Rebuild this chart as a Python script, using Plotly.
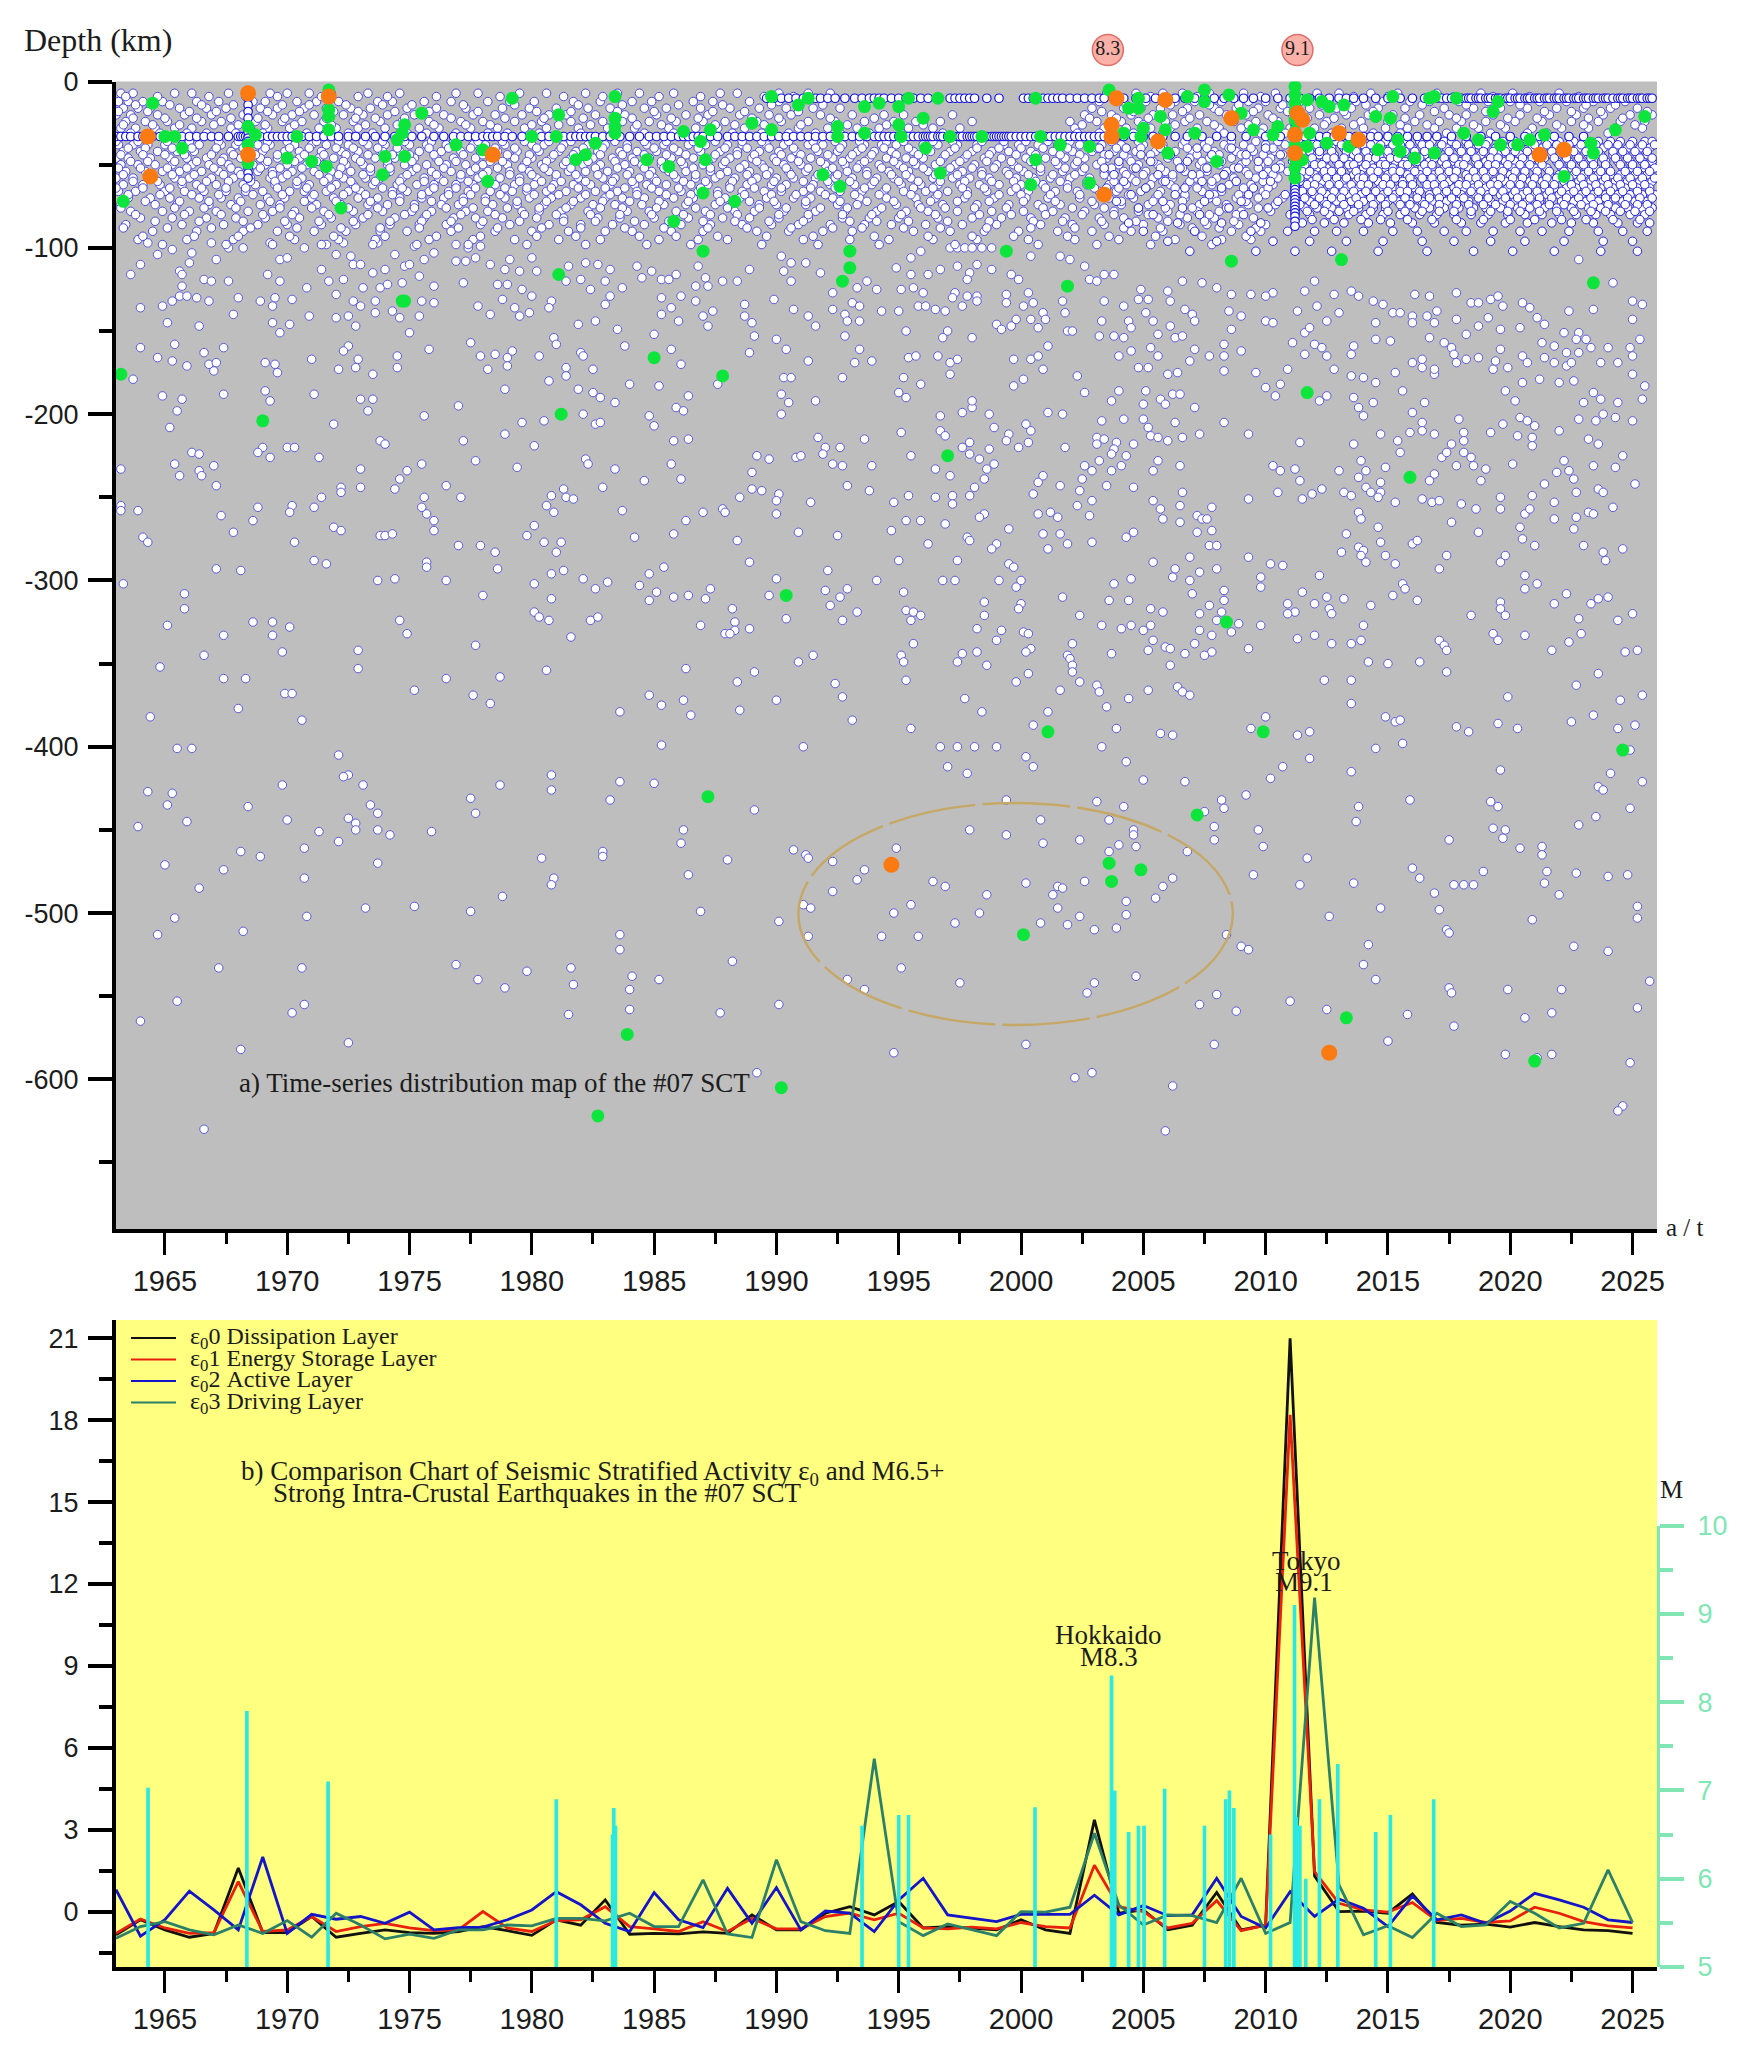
import plotly.graph_objects as go

W, H = 1739, 2054

# all event times are tenths of a year counted from 1963, depths are km below surface
# flat lists: t, depth, t, depth, ...
dots_shallow = [13,97,17,104,23,101,31,103,10,110,6,116,30,109,26,114,27,116,36,119,39,120,46,120,27,123,41,107,46,100,52,100,39,97,63,97,67,107,70,106,77,100,62,116,67,120,84,113,78,124,90,128,87,120,93,119,90,104,96,105,97,110,100,110,105,115,110,113,114,104,118,111,120,110,124,117,126,107,130,103,122,99,86,98,93,97,107,97,101,124,108,124,111,122,117,121,130,123,142,121,156,122,160,122,139,108,143,108,147,106,153,110,159,113,165,114,161,107,170,106,172,114,144,100,149,99,139,98,23,132,26,129,29,129,33,130,38,132,19,135,10,136,50,130,59,132,65,130,64,135,72,131,48,140,64,145,71,146,67,151,79,141,90,142,95,141,98,147,106,139,97,132,100,135,106,132,113,138,116,142,124,141,130,133,125,132,21,145,34,147,120,151,148,135,153,140,158,131,163,136,165,141,169,139,170,129,178,132,177,136,166,125,184,120,190,119,194,125,200,120,207,124,202,129,200,134,189,146,196,144,205,149,185,111,192,109,197,110,202,113,213,111,215,118,219,114,229,116,223,119,226,119,223,130,231,129,237,132,227,136,223,140,230,144,240,141,244,138,242,147,220,152,241,118,237,123,242,123,248,120,254,120,259,113,238,111,257,134,257,141,260,145,269,131,277,137,283,141,286,147,261,153,270,155,272,105,276,109,273,114,276,120,288,115,282,109,293,137,298,140,299,144,304,144,301,133,304,135,293,127,303,124,311,125,307,120,298,153,313,138,341,100,344,100,347,100,350,100,354,100,358,100]
dots_mid_left = [10,160,24,158,17,166,23,168,29,171,36,163,44,160,38,170,41,169,40,174,61,169,65,170,66,175,80,167,95,159,93,162,91,173,99,167,98,172,105,176,115,165,115,172,128,161,145,157,149,165,155,164,162,162,160,166,160,171,152,173,173,165,179,154,180,158,190,163,191,165,184,172,184,177,195,173,177,180,208,159,227,161,231,170,259,163,274,161,283,168,302,169,309,168,304,161,273,178,276,178,297,178,7,179,19,189,27,191,44,188,61,186,63,192,81,188,100,191,105,191,103,198,25,198,22,208,89,206,126,201,140,195,159,185,166,205,175,204,191,200,196,206,198,205,189,185,195,187,198,190,204,193,210,182,222,183,234,189,229,196,232,198,218,201,220,207,246,182,272,188,275,193,286,192,272,200,159,212,142,216,171,219,108,216,110,218,228,216,234,215,287,214,306,215,290,220,296,220,262,225,267,227,278,226,280,225,289,224,31,223,34,224,60,220,58,223,63,226,70,220,73,220,83,226,24,230,40,231,34,234,35,237,26,237,41,243,2,233,100,233,119,234,125,230,116,239,114,245,147,228,164,232,192,227,193,230,204,233,227,230,231,239,216,240,199,244,260,235,293,230,297,231,309,231,299,243,308,246,135,243,92,244,92,247,100,244,84,250,126,250,141,250,178,249,183,245,184,250,187,251,260,245,264,246,271,248,255,250,270,252,284,253]
dots_low_left = [2,255,2,258,9,258,58,256,72,255,71,259,81,256,43,261,56,264,125,256,127,260,130,264,130,270,176,255,179,259,207,258,240,259,248,257,249,259,270,260,233,264,171,267,89,268,92,270,48,271,108,273,110,273,113,272,279,271,228,272,295,273,212,274,168,273,11,274,13,277,73,277,140,279,149,279,155,283,175,277,182,277,180,283,254,276,127,289,127,292,81,288,86,290,41,293,51,294,156,293,259,289,224,292,218,296,178,296,183,294,291,294,270,299,3,302,107,300,114,299,135,300,171,302,191,299,196,305,201,301,214,303,243,305,221,307,228,310,234,309,241,311,218,312,267,309,290,306,299,305,296,310,311,300,292,315,28,308,28,317,150,309,178,311,252,317,303,319,171,319,173,322,177,324,194,324,197,322,274,323,297,324,253,325,21,327,56,325,64,325,71,328,116,324,119,332,44,333,64,333,239,327,253,330,259,329,249,332,251,332,186,334,147,339,99,342,68,343,36,345,18,352,99,353,176,354,233,353,279,349,285,345,44,359,53,359,135,359,157,358,261,355,254,361,294,362,122,366,69,368,72,368,146,369,153,374,218,369,223,375,232,372,270,372,297,370,50,377,14,382,76,384,206,379,235,381,255,378,301,384]
dots_upper_right = [325,106,329,102,319,112,325,116,332,116,337,113,344,111,352,110,349,115,358,113,366,116,369,119,348,119,321,125,326,124,330,127,343,127,342,130,348,129,352,129,352,132,346,135,328,135,331,135,335,137,339,138,320,138,364,128,373,127,364,133,375,133,371,135,379,139,380,143,374,143,368,143,366,147,360,146,362,149,377,148,323,150,340,150,338,154,350,154,374,105,386,105,390,107,396,111,398,119,401,120,404,116,408,116,387,132,388,139,389,150,391,150,404,132,412,135,403,144,414,144,415,148,402,153,408,153,412,154,418,131,422,131,421,139,419,125,430,126,436,120,437,137,440,140,431,132,441,144,424,144,431,147,426,152,433,154,436,153,444,121,450,124,456,128,464,128,473,127,470,129,455,138,460,141,456,149,470,144,473,145,483,138,491,135,500,139,495,144,486,126,490,120,498,128,505,126,508,129,514,132,518,134,522,139,525,139,530,141,536,141,540,138,548,143,539,145,530,145,515,145,531,128,537,129,548,127,554,133,557,133,562,131,565,129,567,135,575,133,578,136,561,142,557,147,566,149,574,148,584,146,581,142,594,138,604,137,620,143,620,132,624,134,612,121,598,107,486,151,488,148,481,157,490,158,493,160,506,159,486,164,495,165,505,164,515,155,521,156,537,154,552,152,543,157,546,160,547,164,548,169,552,167,557,166,566,161,564,168,563,173,569,172,575,165,577,169,583,157,588,159,584,166,588,169,593,171,593,163,598,163,595,169,592,151,598,151,597,155,601,155,603,160,610,160,619,160,623,155,620,165,607,169,614,169,620,176,625,183,324,166,327,165,322,178,329,182,320,187,323,190,336,165,341,169,344,167,341,176,367,167,374,167,377,165,381,159,379,173,393,177,371,179,367,183,410,165,415,162,423,160,426,165,441,161,439,168,447,165,453,165,453,158,460,162,418,172,422,172,430,176,434,175,453,174,466,175,479,173,498,173,505,177,510,178,515,181,523,175,530,169,534,167,534,172,539,176,539,173,396,187,410,186,407,192,421,186,427,191,432,188,435,188,429,194,420,194,441,196,470,184,476,182,474,189,495,189,492,192,506,190,508,196,514,193,510,201,526,186,535,193,530,199,568,186,572,192,575,181,582,179,590,181,596,180,604,187,607,191,600,193,614,193,624,191]
dots_mid_right = [337,201,346,199,350,196,350,192,357,200,381,199,387,200,403,204,412,203,420,203,422,208,433,205,453,205,549,203,534,205,567,206,574,202,577,204,580,207,598,203,605,204,608,200,613,202,620,204,321,211,337,210,339,213,359,208,372,206,374,210,365,212,364,216,373,217,369,220,349,217,346,220,357,221,388,220,401,214,404,215,409,217,416,218,401,218,408,221,423,213,426,214,430,216,436,214,443,212,463,212,484,217,506,218,517,212,524,216,529,211,534,210,539,212,551,211,551,216,546,218,562,211,573,213,579,214,590,210,579,219,602,215,606,218,325,225,349,224,353,227,359,230,356,233,355,239,335,233,341,237,407,224,413,225,402,228,399,234,396,231,411,231,407,234,426,228,424,234,435,231,473,231,476,234,482,233,484,240,500,234,509,228,511,234,508,238,519,232,525,223,542,226,544,223,551,223,554,226,555,231,560,233,548,231,571,230,558,240,539,236,537,240,592,228,604,231,616,225,613,232,589,235,594,234,596,239,584,242,621,242,379,237,377,241,386,243,395,239,394,246,405,243,416,244,375,248,351,244,349,249,342,249,335,250,324,249,342,254,318,253,399,252,393,255,424,252,436,247,463,251,475,247,485,251,489,248,493,245,502,247,505,249,511,244,513,247,517,247,516,250,517,241,523,253,534,251,538,253,541,252,550,254,556,257,566,250,566,257,579,249,588,253,597,247,606,245,608,247,612,256]
dots_low_right = [427,257,435,255,448,256,377,260,382,259,385,262,398,261,355,260,353,262,323,264,329,264,339,266,317,270,365,269,428,263,435,265,442,261,444,263,446,263,442,271,448,270,508,259,509,263,516,268,503,272,546,265,557,271,576,260,578,257,588,263,597,262,602,259,604,260,574,268,596,269,575,275,348,274,349,276,332,278,360,278,358,281,379,272,386,272,381,281,389,278,399,277,413,274,416,271,447,279,450,279,517,277,530,278,532,276,501,283,508,280,510,282,509,285,511,289,519,285,580,279,600,279,608,283,616,281,609,288,568,285,566,289,544,285,523,290,541,293,320,288,344,288,365,290,367,292,424,289,439,286,463,286,472,290,477,291,433,293,443,295,450,293,492,297,468,298,432,298,439,300,338,300,343,300,361,300,370,300,408,302,415,299,576,297,581,302,526,302,468,304,368,304,322,307,576,305,527,305,453,306,485,307,522,309,440,308,593,308,606,311,610,310,532,312,387,310,453,312,406,312,414,312,355,313,370,314,495,310,502,311,490,314,566,313,588,314,603,314,323,318,326,319,329,321,325,324,355,321,369,317,394,321,423,317,428,319,447,315,443,320,452,319,450,324,479,314,482,319,479,320,496,317,497,320,513,315,566,317,568,321,554,321,598,323,614,324,620,320,352,329,362,330,371,331,373,332,403,327,411,329,415,327,420,330,423,327,443,330,459,326,456,331,468,327,510,327,448,333,490,333,563,332,576,333,599,332,483,335,424,336,565,336,594,337,326,338,360,336,391,338,441,338,429,340,431,341,422,342,463,341,497,338,505,338,509,336,541,336,543,339,544,342,587,342,617,343,622,342,448,343,321,345,346,344,352,343,374,341,372,343,407,344,437,344,445,345,389,345,390,347,322,349,344,349,356,351,391,351,431,351,512,349,520,350,533,349,544,355,391,355,373,356,606,356,323,360,368,361,394,361,494,360,505,360,401,363,402,367,434,364,436,367,439,369,422,366,386,366,597,363,569,370,624,369,347,371,414,371,505,374,615,372,405,376,354,379,381,379,470,382,604,381,519,382,523,385,525,384,595,385,565,386,548,388,553,391,573,389,614,389,621,387,325,389,375,387,409,389,427,392,432,393,464,389,483,393,488,391]
dots_deep_left = [25,401,31,401,91,405,223,399,281,400,95,417,93,418,101,423,68,423,13,427,23,428,21,435,29,445,9,448,54,436,70,444,104,435,107,440,95,443,98,446,98,450,107,450,112,453,83,451,91,457,129,451,145,431,147,440,157,423,178,417,178,426,206,421,220,422,202,432,261,438,232,450,231,458,77,461,51,463,59,466,20,471,44,474,34,485,77,479,107,470,174,467,199,463,199,466,179,479,178,483,158,490,234,477,250,468,277,462,282,465,283,467,293,469,306,474,303,480,293,487,281,495,284,497,102,497,122,496,145,499,239,499,78,502,24,503,271,505,17,513,52,511,206,513,206,522,283,514,313,514,252,529,42,533,76,533,139,531,148,540,168,535,186,533,159,545,187,543,211,538,222,540,210,546,299,540,306,546,25,553,77,555,72,560,210,558,185,561,247,560,271,555,10,565,95,578,51,582,262,596,36,630]
dots_deep_right = [337,400,344,400,351,400,360,400,403,400,372,406,340,412,348,416,375,412,413,409,420,420,437,421,364,432,401,433,412,436,378,444,406,444,349,450,364,453,416,450,416,453,379,458,394,456,417,460,410,459,406,463,438,463,319,461,334,481,339,484,372,482,385,484,387,485,396,481,356,489,383,489,432,479,428,484,425,491,413,493,325,495,318,500,353,500,385,497,413,501,394,502,343,506,378,506,389,507,400,510,409,509,328,514,454,513,460,520,463,522,321,533,345,542,417,538,400,542,397,548,318,584,372,579,392,599,399,596,432,604,429,631,449,579,443,555,450,549,458,559,480,553,495,558,520,577,528,561,547,568,576,563,587,560,545,545,546,548,569,546,591,546,627,541,622,557,515,540,510,531,512,519,568,585,587,585,619,590,616,616,614,619,581,587,445,439,449,448,449,456,452,432,453,437,462,429,467,450,469,460,465,477,487,467,484,483,506,482,496,502,517,497,541,498,539,488,530,473,533,479,547,483,551,483,555,483,559,475,545,456,507,445,508,436,529,432,477,412,472,419,488,407,505,415,515,401,526,398,566,414,562,433,565,436,563,449,568,450,567,455,574,461,583,460,583,465,585,475,584,482,590,489,597,476,610,478,618,477,579,504,544,510,545,512,596,520,610,523,622,496,622,503,598,447,605,442,619,437,606,424,608,426,611,416,624,421,619,402]

# the crowded layer above 100 km, one list of times per depth
band_depths = [7, 12, 16, 20, 24, 28, 38, 42, 46, 50, 54, 58, 62, 66, 70, 74, 78, 82, 86, 90, 95]
band_times = [
    [2,7,24,31,46,63,70,79,88,103,116,139,148,165,176,192,205,214,228,247,254,271,283,292,405,417,428,436,447,461,474,491,500,513,524,540,558,571,590],
    [1,5,11,19,33,42,56,61,74,82,91,107,113,126,137,152,161,171,187,198,211,219,236,244,259,271,279,402,409,421,433,441,452,463,470,484,496,507,518,529,537,549,561,570,582,593,604,617],
    [3,9,14,26,37,45,59,66,77,86,96,104,119,131,143,158,169,180,193,202,216,225,239,251,263,274,285,296,399,412,419,427,438,449,458,467,476,488,499,505,516,527,543,555,566,577,589,600,611,622],
    [0,6,17,28,39,52,64,72,81,93,101,111,122,134,146,155,166,177,184,196,208,221,233,242,255,267,276,288,301,314,322,342,396,407,415,424,432,443,454,462,471,481,492,503,512,522,533,545,552,563,574,586,597,608,619,628],
    [4,12,21,35,43,57,68,76,85,97,108,117,128,141,150,163,174,186,199,207,218,229,240,249,262,272,283,294,306,318,327,337,350,390,401,411,418,429,437,446,457,466,475,485,495,509,520,531,541,550,560,572,583,595,606,615,625],
    [2,8,16,24,31,47,55,62,71,83,90,99,110,124,132,145,156,167,176,189,201,212,226,237,246,257,268,279,291,303,312,324,334,345,392,404,413,423,431,442,451,460,469,480,490,501,510,519,528,539,548,557,568,579,591,602,613,624],
    [1,7,13,20,27,34,43,49,58,63,73,80,86,95,103,110,120,127,135,146,151,159,170,175,183,193,200,209,217,224,234,241,250,256,266,273,283,289,297,306,313,319,330,336,344,352,363,369,377,385,394,403,411,420,428,436,445,453,461,470,478],
    [3,10,17,25,32,40,47,53,60,69,75,84,92,99,109,116,124,133,141,149,156,164,173,181,188,197,206,213,221,230,239,247,254,263,271,278,287,295,303,310,317,326,333,341,350,358,365,374,383,391,399,408,417,425,433,440,449,458,465,474],
    [0,5,14,22,29,37,44,51,59,66,75,83,89,98,106,114,122,131,138,147,154,163,170,178,186,195,203,211,218,227,236,244,251,260,269,276,284,293,300,308,315,323,330,338,347,355,362,372,380,388,396,405,414,422,430,439,447,456,463,472],
    [2,9,16,23,31,38,46,56,61,70,78,85,94,101,111,118,127,135,143,150,160,167,174,183,191,198,208,215,223,232,240,248,257,264,273,280,290,298,304,312,320,327,335,343,351,360,367,376,385,392,401,410,418,426,435,443,451,460,468,476],
    [4,12,19,26,35,42,50,58,64,72,81,88,96,104,112,121,129,137,145,152,161,169,177,185,192,201,210,219,226,233,243,250,259,267,275,282,291,299,307,316,324,332,339,346,354,364,371,378,387,395,404,412,421,429,437,446,454,462,471,479],
    [0,7,15,24,30,39,48,55,63,68,76,87,93,102,108,117,126,132,141,148,157,165,172,180,189,199,204,214,220,229,237,245,253,262,270,277,286,294,301,311,318,325,334,342,349,357,368,375,382,390,398,407,415,424,432,441,450,457,466,475],
    [3,11,18,27,33,41,52,57,65,74,79,90,97,105,115,123,130,139,146,155,163,171,179,187,194,202,212,217,225,235,242,251,258,268,274,285,292,302,309,321,329,336,345,353,361,370,379,389,397,406,413,423,431,438,448,455,464,473],
    [1,8,20,28,36,45,53,60,71,77,86,95,100,113,119,128,136,144,153,162,168,176,184,196,205,213,222,231,238,246,256,265,272,281,288,296,305,314,322,331,340,348,356,366,373,384,393,402,409,419,427,434,444,452,461,469],
    [5,14,22,34,43,50,62,69,80,89,99,107,116,125,134,142,151,159,169,178,190,200,207,216,228,236,249,255,266,277,284,293,304,315,327,335,347,359,372,381,394,406,416,425,437,447,458,467,477],
    [2,16,25,38,47,59,67,82,92,103,111,122,133,140,154,164,175,186,195,204,215,224,233,245,252,263,270,282,295,303,319,328,338,352,365,377,386,400,411,422,431,443,454,463,474],
    [6,19,30,41,54,64,73,85,97,109,121,129,143,152,166,173,182,193,209,218,229,241,253,261,273,286,298,311,323,332,344,358,371,383,396,408,418,430,442,451,460,472],
    [10,23,37,49,61,75,88,101,114,126,138,147,158,172,183,197,206,220,234,248,259,271,283,297,308,320,336,350,362,374,388,402,412,426,438,449,465],
    [4,27,44,58,70,84,98,112,124,135,149,161,177,190,203,216,231,243,256,268,279,292,306,317,331,346,360,378,391,404,420,435,446,459,470],
    [15,33,52,66,81,94,108,119,137,155,170,185,200,211,227,240,262,275,289,301,326,341,355,369,385,399,415,428,441,456,468],
    [9,29,48,73,91,106,128,146,163,181,198,222,238,250,281,300,316,334,352,373,392,410,433,452,464],
]
band2_depths = [9, 14, 18, 22, 26, 31, 36, 40, 44, 48, 52, 56, 60, 64, 68, 72, 76, 80, 84, 88, 93, 98]
band2_times = [
    [4,17,38,53,66,84,99,111,131,157,183,199,222,239,265,277,410,423,442,455,468,506,520,547,563,578,598],
    [8,22,35,48,68,79,94,109,121,142,163,189,207,230,248,268,289,413,431,447,459,477,493,511,534,552,574,601,613],
    [1,13,30,41,62,75,89,99,114,128,148,172,186,205,220,244,257,279,403,416,436,451,465,479,502,514,539,560,584,595,607,626],
    [7,20,33,47,58,69,86,98,106,118,137,159,175,191,211,227,238,260,271,292,310,398,409,422,439,456,473,487,498,515,527,548,569,581,602,616],
    [3,15,26,40,50,61,73,88,102,115,130,143,153,170,181,194,213,223,245,253,265,280,299,315,330,395,406,420,433,449,463,482,494,506,525,536,555,566,589,600,621],
    [6,18,29,37,49,60,78,87,95,105,119,127,139,152,160,173,190,203,216,228,243,252,264,275,286,296,308,321,338,393,402,416,428,439,453,468,478,497,514,525,544,562,577,585,610],
    [0,9,21,30,42,50,62,70,82,91,101,109,118,129,138,148,158,167,177,186,195,204,216,225,236,245,256,264,275,285,294,304,315,322,334,342,354,363,372,381,390,398,407,418,426,437,447,456,466,475],
    [5,12,23,31,41,52,61,71,79,90,97,107,115,128,136,145,155,163,172,182,191,199,209,220,228,238,249,258,267,277,286,296,305,314,324,331,343,352,361,370,379,389,401,409,419,428,438,446,455,464,473],
    [2,11,20,28,39,48,57,66,77,85,94,103,113,120,130,142,150,160,169,179,187,198,207,216,225,233,245,254,261,272,280,291,301,309,319,328,339,348,357,368,376,386,394,404,412,423,431,442,451,460,469,477],
    [6,13,24,33,43,54,62,73,82,93,100,111,121,132,139,153,158,168,176,184,193,204,212,223,231,242,249,262,270,279,288,297,306,318,326,337,345,356,366,374,384,393,403,415,424,434,444,452,462,471],
    [1,10,21,29,40,47,59,67,76,86,92,104,112,123,134,147,156,166,175,186,196,205,216,224,236,243,255,265,274,283,293,303,313,322,330,341,350,359,369,378,388,396,407,416,427,436,445,457,467,476],
    [3,14,23,32,44,51,64,70,83,91,101,110,119,131,141,150,161,170,180,188,197,209,218,228,237,247,258,266,276,287,295,307,317,323,335,344,354,365,373,383,392,404,413,420,432,443,453,463,473],
    [7,17,27,37,46,55,65,74,85,96,106,116,126,134,144,152,165,174,182,192,203,211,221,232,241,252,260,269,281,291,300,310,320,328,337,347,358,367,376,386,397,408,417,428,439,448,458,469],
    [0,11,22,35,45,53,66,78,88,98,109,117,130,139,147,159,168,178,189,200,208,219,230,239,251,261,272,284,294,306,315,326,334,346,355,368,380,389,400,410,421,433,442,452,461,471],
    [5,18,31,42,56,68,81,93,102,113,125,136,145,157,171,181,192,202,213,225,235,246,257,268,278,290,302,312,325,336,348,361,370,382,394,405,414,426,437,449,459,470],
    [12,26,38,51,63,77,90,104,116,129,142,151,164,176,187,199,210,222,234,247,259,269,282,296,307,318,333,344,357,371,384,399,411,424,436,450,462],
    [2,24,36,49,67,80,95,107,122,135,146,160,173,184,198,207,221,237,250,263,274,288,299,313,329,339,351,364,379,391,404,418,429,440,454,467],
    [8,28,43,60,72,87,103,118,127,141,155,167,180,194,206,219,232,243,254,271,283,297,309,321,335,353,366,380,395,408,422,435,447,458],
    [16,34,52,69,83,97,112,125,137,150,165,183,196,212,226,240,253,267,281,300,311,324,340,357,375,387,403,417,430,445,457],
    [3,21,39,55,74,92,108,124,140,156,174,190,208,224,242,258,276,293,305,322,337,356,374,392,412,427,440,451,466],
    [11,32,50,71,89,110,131,149,172,188,214,229,246,266,285,310,332,350,367,389,406,425,444,462],
    [19,45,64,84,105,123,144,168,192,217,235,264,287,312,343,377,401,423,448],
]

# after the 2011 event the 35-90 km layer closes into a mesh
mesh_depths = [36, 40, 44, 48, 52, 56, 60, 64, 68, 72, 76, 80, 85, 90, 96, 102]
mesh_times = [
    [484,490,496,499,505,509,515,519,524,528,533,538,543,546,552,556,561,567,572,576,581,586,590,596,600,606,611,615,620,625,628],
    [402,413,427,442,456,470,483,487,493,497,502,507,511,516,521,526,530,536,541,544,549,554,559,564,569,573,579,583,588,593,598,603,608,613,618,623,627],
    [406,419,431,448,462,476,485,489,492,498,503,506,512,517,520,525,531,535,539,545,551,555,558,565,570,574,578,584,587,592,597,602,607,612,617,622,626],
    [410,423,438,451,467,481,484,488,494,499,504,508,513,518,523,527,532,537,542,547,550,556,560,563,568,572,577,582,589,594,599,604,609,614,619,624,628],
    [404,417,435,446,459,474,486,491,495,500,505,510,514,519,522,529,534,538,543,548,553,557,562,566,571,575,580,585,591,595,601,605,610,616,620,625,629],
    [408,426,440,453,469,483,487,490,496,501,506,509,515,520,524,528,533,539,544,546,552,558,561,567,570,576,581,586,590,596,600,606,611,615,621,626],
    [412,429,444,458,472,484,489,493,498,502,507,512,516,521,526,530,535,540,545,549,554,559,564,568,573,578,583,587,592,598,603,608,613,618,623,628],
    [405,421,437,452,465,482,486,492,497,503,508,511,517,522,525,531,536,541,547,551,555,560,565,569,574,579,584,588,593,597,602,607,612,617,622,627],
    [415,433,447,463,478,485,490,495,500,504,509,513,518,523,527,532,537,542,546,550,556,561,566,571,575,580,585,590,594,599,604,609,614,619,624,629],
    [409,428,445,460,475,483,488,494,499,505,510,515,520,524,529,534,538,544,548,553,558,562,567,572,577,582,586,591,596,601,606,610,616,621,626],
    [418,436,455,471,486,491,497,503,508,514,519,526,531,537,543,549,555,560,566,573,578,584,589,595,602,607,613,618,624,628],
    [424,443,461,480,488,496,504,511,518,525,533,540,547,554,561,569,576,583,590,597,605,611,619,625],
    [414,434,452,468,485,494,502,512,521,530,539,550,558,568,577,587,595,604,614,622,627],
    [420,441,464,479,490,499,510,522,532,543,552,563,574,583,594,606,616,626],
    [430,450,473,488,503,518,534,547,562,576,592,608,620],
    [439,466,482,497,516,536,555,571,588,607,622],
]
mesh2_depths = [38, 42, 46, 50, 54, 58, 62, 66, 70, 74, 78, 83]
mesh2_times = [
    [486,491,494,501,504,510,513,517,522,525,529,534,537,542,548,553,557,560,566,571,574,580,585,589,594,599,605,610,614,619,624,629],
    [485,488,492,497,503,507,511,516,520,527,531,535,540,545,550,554,559,563,568,572,577,582,587,591,596,601,606,612,616,621,626],
    [484,489,495,498,502,508,512,515,521,524,530,533,539,543,547,552,556,562,565,570,575,579,584,588,593,598,603,608,613,618,623,628],
    [486,490,493,500,504,506,511,517,519,526,528,535,538,544,549,551,557,561,564,569,574,578,583,590,595,600,604,609,615,620,625],
    [485,488,494,497,501,507,513,516,522,525,531,536,541,545,548,555,559,563,567,572,576,581,586,592,597,602,607,611,617,622,627],
    [484,491,495,499,503,508,510,514,519,523,529,534,538,542,547,553,556,560,566,571,575,580,585,589,594,599,604,609,614,619,624,629],
    [487,490,496,500,505,509,512,518,521,526,530,536,539,543,549,552,557,562,565,570,574,579,584,588,595,600,605,610,615,620,625],
    [485,489,493,498,502,506,511,515,520,525,528,533,540,544,548,554,558,563,567,572,577,581,586,591,596,601,606,611,616,622,627],
    [486,492,497,501,507,513,517,522,527,532,537,541,546,551,557,561,568,573,578,582,587,593,598,603,609,613,618,623,628],
    [484,490,495,502,508,514,519,525,529,535,541,548,553,559,564,570,575,581,586,592,599,604,610,617,622,626],
    [487,494,500,506,513,520,527,534,541,547,554,562,569,574,582,589,596,603,609,615,621,627],
    [489,498,509,517,528,538,548,559,570,580,591,601,612,623],
]

# catalogue depths fixed at 33 km and 10 km
fixed_33_times = [0,2,4,6,9,11,13,15,18,21,24,27,30,33,36,39,42,46,50,51,52,53,54,55,57,59,62,64,66,68,70,72,74,76,79,82,85,88,91,95,98,102,106,110,114,118,121,125,130,134,138,141,144,147,150,152,154,156,159,162,166,170,174,177,180,183,186,188,190,192,194,196,199,202,206,210,214,218,221,224,227,230,232,234,236,238,240,243,246,250,253,256,259,262,265,268,271,274,277,280,283,286,289,292,295,298,301,304,307,310,312,314,316,318,320,322,324,326,328,330,331,332,333,334,336,337,338,340,341,342,344,345,346,348,349,350,351,352,354,355,356,358,359,360,361,362,363,364,365,366,368,370,372,374,376,378,380,382,384,386,388,390,392,394,396,398,400,402,404,406,409,412,416,420,424,428,433,438,444,450,456,462,470,476,486,489,492,495,498,501,504,507,510,513,516,520,524,528,532,536,540,546,552,558,564,570,576,582,588,594,600]
fixed_10_times = [266,269,272,275,278,281,284,286,288,291,294,298,302,305,308,310,312,314,317,320,323,326,329,332,341,343,345,347,349,351,356,361,371,373,375,377,379,381,383,385,387,390,393,396,399,402,404,408,412,417,421,425,429,433,437,441,445,449,453,457,461,465,470,475,480,484,488,492,496,500,503,506,510,515,520,525,530,535,538,540,542,544,546,548,550,552,553,554,556,557,558,560,561,562,564,565,566,568,569,570,572,573,574,576,577,578,580,581,582,584,585,586,588,589,590,592,593,594,596,597,598,600,601,602,604,605,606,608,609,610,612,614,615,616,618,619,620,622,623,624,626,627,628]
stack_1968_depths = [10,14,18,22,26,28,30,34,36,38,41,44,48,52,55,58]
stack_2011_depths = [5,9,13,17,21,25,29,33,37,41,43,45,47,49,51,53,55,57,59,61,63,65,67,69,71,73,75,77,79,81,84,87]

green_events = [15,13,20,33,24,33,27,40,3,72,57,32,54,27,54,38,54,49,74,33,70,46,80,48,86,51,87,5,87,17,87,29,87,21,92,76,125,19,118,26,117,31,115,35,110,45,118,45,109,56,139,38,150,41,152,60,162,10,181,20,170,33,180,33,196,37,192,44,188,47,204,9,204,22,204,27,204,31,217,47,226,51,232,30,239,36,243,29,241,47,240,67,240,102,253,72,228,84,181,116,118,132,260,25,268,9,268,29,279,14,283,10,289,56,296,63,295,27,295,33,306,15,306,31,300,102,300,112,297,120,312,13,320,15,324,10,336,10,320,26,330,22,321,33,331,40,337,55,341,33,354,33,376,10,378,33,376,47,374,62,386,38,398,39,398,61,364,102,389,123,406,5,414,16,418,10,418,16,412,31,420,28,419,33,430,43,429,29,427,21,438,9,445,5,445,12,455,8,460,19,441,31,450,48,465,29,475,27,473,32,482,3,482,8,482,13,482,18,482,23,482,30,482,38,482,46,482,52,482,58,487,11,488,31,487,39,485,47,493,12,496,15,502,14,495,37,504,39,456,108,501,107,522,9,515,21,521,22,524,35,525,42,516,41,531,46,539,43,537,10,539,9,548,10,565,12,563,18,551,31,557,35,566,38,573,38,578,35,584,32,603,37,604,43,592,57,613,29,625,21,604,121,2,176,60,204,117,132,220,166,248,177,182,200,274,309,340,225,487,187,529,238,454,325,381,391,469,391,242,430,209,573,272,605,197,622,442,441,616,402,406,470,419,474,407,481,371,513,503,563,580,589]
orange_events = [13,33,14,57,54,7,54,44,87,9,154,44,409,10,429,11,407,26,407,33,426,36,404,68,456,22,483,19,485,23,482,32,482,43,500,31,508,35,582,44,592,41,496,584,317,471]

major_year = [2003.55, 2011.3]
major_label = ["8.3", "9.1"]

# panel b, one value per year
years = list(range(1963, 2026))
eps0 = [-.85,-.3,-.67,-.94,-.8,1.6,-.77,-.77,-.18,-.94,-.8,-.67,-.77,-.8,-.73,-.55,-.7,-.87,-.3,-.5,.43,-.83,-.8,-.82,-.74,-.8,-.12,-.67,-.67,-.06,.18,-.12,.37,-.6,-.55,-.6,-.67,-.3,-.67,-.8,3.36,-.06,.06,-.67,-.5,.7,-.67,-.5,21.0,1.3,0,.02,-.06,.65,-.4,-.5,-.46,-.57,-.4,-.55,-.67,-.7,-.8]
eps1 = [-.8,-.27,-.6,-.8,-.77,1.1,-.73,-.67,-.18,-.73,-.55,-.43,-.6,-.7,-.67,0,-.6,-.73,-.33,-.3,.18,-.55,-.63,-.73,-.37,-.73,-.25,-.63,-.63,-.18,-.06,-.3,-.06,-.6,-.63,-.57,-.63,-.4,-.55,-.6,1.7,.18,0,-.6,-.43,.4,-.7,-.5,18.2,1.46,.3,.06,-.02,.33,-.33,-.25,-.4,-.34,.16,-.06,-.37,-.52,-.6]
eps2 = [.8,-.9,-.3,.75,.06,-.67,2.0,-.8,-.1,-.28,-.18,-.43,-.02,-.67,-.59,-.57,-.3,.06,.73,.25,-.43,-.73,.7,-.3,-.59,.85,-.43,.88,-.67,.02,-.06,-.73,.43,1.22,-.12,-.25,-.37,-.1,-.1,-.1,.6,-.12,.22,-.15,-.12,1.22,-.18,-.6,.73,-.18,.46,.12,-.55,.57,-.3,-.12,-.43,.02,.67,.43,.16,-.3,-.4]
eps3 = [-.98,-.55,-.37,-.67,-.85,-.49,-.8,-.33,-.94,-.06,-.49,-1,-.83,-.98,-.67,-.67,-.49,-.52,-.25,-.25,-.34,-.06,-.55,-.55,1.16,-.82,-.95,1.9,-.37,-.7,-.8,5.6,-.37,-.88,-.45,-.67,-.88,0,-.02,.16,2.87,.24,-.49,-.12,-.15,-.4,1.22,-.8,-.4,11.5,.98,-.85,-.52,-.95,-.06,-.55,-.49,.37,-.06,-.6,-.43,1.53,-.4]

quake_year = [1964.31,1968.35,1971.67,1981.0,1983.3,1983.35,1983.42,1993.5,1995.0,1995.4,2000.57,2003.7,2003.83,2004.4,2004.8,2005.03,2005.87,2007.5,2008.37,2008.52,2008.7,2010.2,2011.18,2011.25,2011.4,2011.64,2012.2,2012.95,2014.5,2015.1,2016.87]
quake_mag = [7.03,7.9,7.1,6.9,6.5,6.8,6.6,6.6,6.72,6.72,6.81,8.3,7.0,6.53,6.6,6.6,7.02,6.6,6.9,7.0,6.8,6.5,9.1,6.7,6.6,6.0,6.9,7.3,6.53,6.72,6.9]

year_ticks = list(range(1965, 2030, 5))
year_minor = [1967.5 + 5 * i for i in range(12)]
depth_ticks = [0, -100, -200, -300, -400, -500, -600]
depth_minor = [-50, -150, -250, -350, -450, -550, -650]
eps_ticks = [0, 3, 6, 9, 12, 15, 18, 21]
eps_minor = [-1.5, 1.5, 4.5, 7.5, 10.5, 13.5, 16.5, 19.5]
mag_ticks = [5, 6, 7, 8, 9, 10]
mag_minor = [5.5, 6.5, 7.5, 8.5, 9.5]

legend_labels = [
    "ε<sub>0</sub>0 Dissipation Layer",
    "ε<sub>0</sub>1 Energy Storage Layer",
    "ε<sub>0</sub>2 Active Layer",
    "ε<sub>0</sub>3 Driving Layer",
]
legend_colors = ["#111111", "#E8200C", "#1414C8", "#2C8068"]

SANS = "Liberation Sans"
SERIF = "Liberation Serif"
TEXT = "#1c1c1c"


def year_of(t):
    return 1963 + t / 10


def px(x):
    return x / W


def py(y):
    return 1 - y / H


def rows_to_points(rows, depths):
    ts, ds = [], []
    for times, depth in zip(rows, depths):
        ts += times
        ds += [depth] * len(times)
    return ts, ds


def add_dots(ts, ds, size, color, line_color=None, line_width=0):
    fig.add_trace(go.Scatter(
        x=[year_of(t) for t in ts],
        y=[-d for d in ds],
        mode="markers",
        marker={"size": size, "color": color, "line": {"color": line_color or color, "width": line_width}},
        showlegend=False,
    ))


fig = go.Figure()

sparse_t, sparse_d = [], []
for flat in [dots_shallow, dots_mid_left, dots_low_left, dots_upper_right, dots_mid_right,
             dots_low_right, dots_deep_left, dots_deep_right]:
    sparse_t += flat[::2]
    sparse_d += flat[1::2]
band_t, band_d = rows_to_points(band_times + band2_times, band_depths + band2_depths)
mesh_t, mesh_d = rows_to_points(mesh_times + mesh2_times, mesh_depths + mesh2_depths)

add_dots(sparse_t, sparse_d, 8.5, "white", "#5A5AD8", 1)
add_dots(band_t, band_d, 8.5, "white", "#4A4AD8", 1)
add_dots(mesh_t, mesh_d, 8.5, "white", "#2424D8", 1)
add_dots(fixed_33_times + [54] * len(stack_1968_depths) + [482] * len(stack_2011_depths),
         [33] * len(fixed_33_times) + stack_1968_depths + stack_2011_depths,
         8.5, "white", "#1414DC", 1.2)
add_dots(fixed_10_times, [10] * len(fixed_10_times), 8.5, "white", "#1414DC", 1.2)
add_dots(green_events[::2], green_events[1::2], 13, "#0CE63C")
add_dots(orange_events[::2], orange_events[1::2], 16, "#FB7A12")

fig.add_trace(go.Scatter(
    x=major_year,
    y=[0, 0],
    mode="markers+text",
    text=major_label,
    textposition="middle center",
    textfont={"family": SERIF, "size": 20, "color": TEXT},
    marker={"size": 31, "color": "#FBB0A8", "line": {"color": "#DE6E68", "width": 1.5}},
    xaxis="x4",
    yaxis="y4",
    showlegend=False,
))

for values, name, color in zip([eps0, eps1, eps2, eps3], legend_labels, legend_colors):
    fig.add_trace(go.Scatter(
        x=years,
        y=values,
        mode="lines",
        name=name,
        line={"color": color, "width": 2.8},
        xaxis="x2",
        yaxis="y2",
        showlegend=False,
    ))
fig.add_trace(go.Bar(
    x=quake_year,
    y=quake_mag,
    width=0.15,
    marker={"color": "#2BE8E2", "line": {"width": 0}},
    xaxis="x3",
    yaxis="y3",
    showlegend=False,
))

plot_left, plot_right = px(116), px(1657)
year_axis = dict(
    range=[1963, 2026],
    tickvals=year_ticks,
    ticks="outside",
    ticklen=22,
    tickwidth=3,
    tickcolor="black",
    linecolor="black",
    linewidth=4,
    showline=True,
    showgrid=False,
    zeroline=False,
    automargin=False,
    ticklabelstandoff=1,
    tickfont={"family": SANS, "size": 29, "color": TEXT},
    minor={"tickvals": year_minor, "ticks": "outside", "ticklen": 11, "tickwidth": 3, "tickcolor": "black"},
    domain=[plot_left, plot_right],
)
value_axis = dict(
    ticks="outside",
    ticklen=24,
    tickwidth=4,
    tickcolor="black",
    linecolor="black",
    linewidth=4,
    showline=True,
    showgrid=False,
    zeroline=False,
    automargin=False,
    ticklabelstandoff=4,
    tickfont={"family": SANS, "size": 27, "color": TEXT},
)

fig.update_layout(
    width=W,
    height=H,
    margin={"l": 0, "r": 0, "t": 0, "b": 0},
    paper_bgcolor="white",
    plot_bgcolor="rgba(0,0,0,0)",
    barmode="overlay",
    showlegend=False,
    xaxis=dict(year_axis, anchor="y"),
    yaxis=dict(
        value_axis,
        range=[-690, 0],
        domain=[py(1229), py(81.6)],
        anchor="x",
        tickvals=depth_ticks,
        ticktext=[str(v) for v in depth_ticks],
        minor={"tickvals": depth_minor, "ticks": "outside", "ticklen": 13, "tickwidth": 4, "tickcolor": "black"},
    ),
    xaxis2=dict(year_axis, anchor="y2"),
    yaxis2=dict(
        value_axis,
        range=[-2.03, 21.67],
        domain=[py(1967), py(1320)],
        anchor="x2",
        tickvals=eps_ticks,
        minor={"tickvals": eps_minor, "ticks": "outside", "ticklen": 13, "tickwidth": 4, "tickcolor": "black"},
    ),
    xaxis3=dict(range=[1963, 2026], domain=[plot_left, plot_right], anchor="y3", visible=False, automargin=False),
    yaxis3=dict(
        range=[5, 10],
        domain=[py(1967), py(1525.5)],
        anchor="x3",
        side="right",
        tickvals=mag_ticks,
        ticks="outside",
        ticklen=24,
        tickwidth=4,
        tickcolor="#7FE6B4",
        linecolor="#7FE6B4",
        linewidth=3,
        showline=True,
        showgrid=False,
        zeroline=False,
        automargin=False,
        ticklabelstandoff=8,
        tickfont={"family": SANS, "size": 27, "color": "#7FE6B4"},
        minor={"tickvals": mag_minor, "ticks": "outside", "ticklen": 13, "tickwidth": 4, "tickcolor": "#7FE6B4"},
    ),
    # strip above panel a that carries the two great-earthquake badges
    xaxis4=dict(range=[1963, 2026], domain=[plot_left, plot_right], anchor="y4", visible=False, automargin=False),
    yaxis4=dict(range=[-1, 1], domain=[py(75), py(25)], anchor="x4", visible=False, automargin=False),
)

fig.add_shape(type="rect", xref="x domain", yref="y domain", x0=0, x1=1, y0=0, y1=1,
              fillcolor="#BEBEBE", line={"width": 0}, layer="below")
fig.add_shape(type="rect", xref="x2 domain", yref="y2 domain", x0=0, x1=1, y0=0, y1=1,
              fillcolor="#FFFF80", line={"width": 0}, layer="below")
fig.add_shape(type="circle", xref="x", yref="y", x0=1990.9, x1=2008.66, y0=-433.8, y1=-567.3,
              line={"color": "#C6A866", "width": 2.4, "dash": "88px,7px"})


def label(x, y, text, size=27, anchor="left", family=SERIF, color=TEXT):
    fig.add_annotation(x=px(x), y=py(y), xref="paper", yref="paper", text=text, showarrow=False,
                       xanchor=anchor, yanchor="middle", font={"family": family, "size": size, "color": color})


label(22, 40, "Depth (km)", size=32)
label(1664, 1227, "a / t", size=25)
label(237, 1083, "a) Time-series distribution map of the #07 SCT")
label(239, 1473, "b) Comparison Chart of Seismic Stratified Activity ε<sub>0</sub> and M6.5+")
label(271, 1493, "Strong Intra-Crustal Earthquakes in the #07 SCT")
label(1658, 1489, "M", size=26)
label(1108, 1635, "Hokkaido", anchor="center")
label(1109, 1657, "M8.3", anchor="center")
label(1306, 1561, "Tokyo", anchor="center")
label(1304, 1582, "M9.1", anchor="center")

for i, (name, color) in enumerate(zip(legend_labels, legend_colors)):
    row_y = 1338 + 21.5 * i
    fig.add_shape(type="line", xref="paper", yref="paper", x0=px(131), x1=px(176), y0=py(row_y), y1=py(row_y),
                  line={"color": color, "width": 2})
    label(188, row_y, name, size=24)

# default page body margin would shift the whole figure by 8px
fig.write_html("out.html", config={"displayModeBar": False}, post_script="document.body.style.margin = '0';")
